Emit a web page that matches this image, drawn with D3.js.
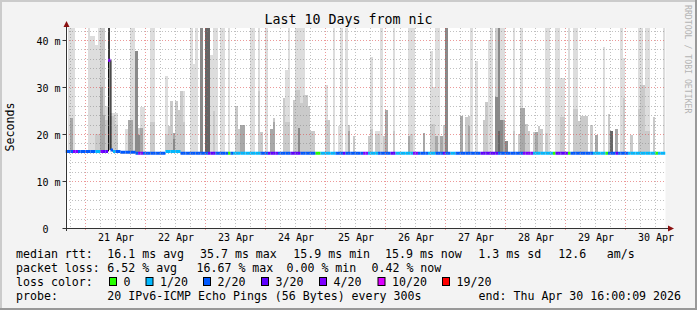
<!DOCTYPE html>
<html>
<head>
<meta charset="utf-8">
<script src="https://cdn.jsdelivr.net/npm/d3@7/dist/d3.min.js"></script>
<style>
body { margin: 0; background: #f3f3f3; }
svg { display: block; font-family: "DejaVu Sans Mono", monospace; }
</style>
</head>
<body>
<div class="container"></div>
<script>
const WIDTH = 697;
const HEIGHT = 310;
const PLOT_LEFT = 65.5, PLOT_RIGHT = 665.5;
const PLOT_TOP = 28, PLOT_BOTTOM = 228;
const Y_MAX = 42.55;

const startTime = Date.UTC(2026, 3, 20, 16, 0, 9);
const endTime = Date.UTC(2026, 3, 30, 16, 0, 9);
const firstSlot = Date.UTC(2026, 3, 20, 16, 0, 0);
const HOUR = 3600 * 1000;

// hourly smoke: top of the outermost band (max ping), ms
const smokeMax = [
    0,45,45,45,0,0,0,0,0,45,40.8,40.8,39,45,45,45,25.9,45,24.5,24.5,
    24.5,0,0,0,21.1,23,45,45,37.6,21.3,25.8,25.8,0,0,45,45,0,0,0,0,
    32.3,21.7,27.1,20.3,27.1,25.1,29.2,29.2,0,0,45,34.9,45,0,45,0,45,45,36.7,45,
    45,0,45,45,0,45,0,0,25.9,21,21.9,21.9,0,0,45,45,0,45,20.5,0,
    45,0,21,23.4,0,0,0,27.7,33.7,45,0,27.2,45,45,45,45,28.4,25.9,20.7,20.7,
    0,0,0,0,30.4,23,0,45,0,21.7,45,0,45,22,0,19.5,0,0,0,0,
    0,19.5,36.3,0,20.7,20.7,45,19.5,25.1,0,0,45,0,0,0,0,0,45,45,45,
    0,0,0,20.3,0,0,37.6,30,45,45,19.5,22,45,0,0,0,0,0,23.9,0,
    23.7,23.9,45,0,35.5,0,0,23,26.9,40.1,45,0,45,45,45,45,18.5,0,0,45,
    0,20,45,25.5,22.1,20.7,0,20.5,20.5,21.7,21,0,45,45,0,0,45,45,32,32,
    0,45,0,45,45,22.8,23.9,23.9,23.9,0,22,0,19.8,0,0,38.6,0,24.2,20.7,0,
    21.1,0,45,36.2,0,0,19.8,0,0,45,45,30.4,45,45,0,23.7,0,0,0,45
];

// second band (19th ping), ms
const smokeP19 = [
    0,0,23.5,0,0,0,0,0,0,0,0,0,20,20,45,45,23,45,23.8,23.8,
    22,0,0,0,0,0,0,0,37.6,21.3,0,0,0,0,22.5,22.5,0,0,0,0,
    20,21.7,27.1,20.3,27.1,25.1,29.2,22.5,0,0,0,0,0,0,45,0,45,45,0,24.9,
    0,0,0,0,0,0,0,0,25.9,21,0,0,0,0,0,0,0,29.1,20.5,0,
    0,0,0,23.4,0,0,0,27.7,22.6,22.6,0,27.2,29.4,29.4,26.6,28.4,28.4,25.9,20.7,20.7,
    0,0,0,0,23,23,0,0,0,0,0,0,0,22,0,19.5,0,0,0,0,
    0,19.5,21,0,20,20,0,19.5,0,0,0,20.7,0,0,0,0,0,0,20,0,
    0,0,0,0,0,0,22.2,22.2,0,0,0,22,45,0,0,0,0,0,0,0,
    23.7,23.9,0,0,0,0,0,23,26.9,0,0,0,45,45,0,0,0,0,0,20.7,
    0,20,0,0,22.1,20.7,0,20.5,0,21.7,21,0,20.2,0,0,0,0,0,23.6,23.6,
    0,0,0,25.4,25.4,22.8,23.9,23.9,23.9,0,22,0,0,0,0,0,0,24.2,20.7,0,
    0,0,0,27.7,0,0,19.8,0,0,25.4,30.4,30.4,20.7,20.7,0,23.7,0,0,0,0
];

// darker inner bands: hour slot and top (ms)
const p17Slots = [2,14,15,17,25,26,28,30,43,54,56,57,70,71,82,83,93,113,128,137,143,148,150,152,158,161,172,173,175,182,183,188,212,218,220];
const p17Tops = [23.3,30,24,45,23,23,37.6,21.3,20.3,45,45,45,21.9,21.9,21,22.6,21.3,20.7,25.1,19.5,20.3,19.5,19.5,45,23.9,21.7,27.8,45,23,25.5,25.5,20.5,19.8,20.7,21.1];
const p15Slots = [17,28,29,43,54,56,57,93,152,172,173,174,176,218];
const p15Tops = [45,37.6,19.8,19,45,45,45,21.3,45,27.8,45,23,18.5,20.7];
const p13Slots = [17,56,57,173,218];
const p13Tops = [45,45,45,20.7,20.7];
const p11Slots = [17];
const p11Tops = [45];

// hourly median rtt, ms
const medianRtt = [
    16.3,16.3,16.3,16.3,16.3,16.3,16.3,16.3,16.3,16.3,16.3,16.3,16.3,16.3,16.3,16.3,16.3,35.7,16.6,16.3,
    16.3,16.3,16.1,16.1,16.1,16.1,16.1,16.1,15.9,15.9,15.9,15.9,15.9,15.9,15.9,15.9,15.9,15.9,15.9,15.9,
    16.3,16.3,16.3,16.3,16.3,16.3,15.9,15.9,15.9,15.9,15.9,15.9,15.9,15.9,15.9,15.9,15.9,15.9,15.9,15.9,
    15.9,15.9,15.9,15.9,15.9,15.9,15.9,15.9,15.9,15.9,15.9,15.9,15.9,15.9,15.9,15.9,15.9,15.9,15.9,15.9,
    15.9,15.9,15.9,15.9,15.9,15.9,15.9,15.9,15.9,15.9,15.9,15.9,15.9,15.9,15.9,15.9,15.9,15.9,15.9,15.9,
    15.9,15.9,15.9,15.9,15.9,15.9,15.9,15.9,15.9,15.9,15.9,15.9,15.9,15.9,15.9,15.9,15.9,15.9,15.9,15.9,
    15.9,15.9,15.9,15.9,15.9,15.9,15.9,15.9,15.9,15.9,15.9,15.9,15.9,15.9,15.9,15.9,15.9,15.9,15.9,15.9,
    15.9,15.9,15.9,15.9,15.9,15.9,15.9,15.9,15.9,15.9,15.9,15.9,15.9,15.9,15.9,15.9,15.9,15.9,15.9,15.9,
    15.9,15.9,15.9,15.9,15.9,15.9,15.9,15.9,15.9,15.9,15.9,15.9,15.9,15.9,15.9,15.9,15.9,15.9,15.9,15.9,
    15.9,15.9,15.9,15.9,15.9,15.9,15.9,15.9,15.9,15.9,15.9,15.9,15.9,15.9,15.9,15.9,15.9,15.9,15.9,15.9,
    15.9,15.9,15.9,15.9,15.9,15.9,15.9,15.9,15.9,15.9,15.9,15.9,15.9,15.9,15.9,15.9,15.9,15.9,15.9,15.9,
    15.9,15.9,15.9,15.9,15.9,15.9,15.9,15.9,15.9,15.9,15.9,15.9,15.9,15.9,15.9,15.9,15.9,15.9,15.9,15.9
];

// hourly lost pings out of 20
const lostPings = [
    2,2,2,4,4,2,2,2,2,2,2,2,1,1,4,3,3,4,2,1,
    2,2,2,2,2,2,2,2,2,4,4,2,2,2,2,2,2,2,2,2,
    1,1,1,1,1,1,2,2,2,2,2,2,2,2,2,2,2,3,3,3,
    2,2,2,2,2,0,2,1,1,1,1,1,1,1,1,1,1,1,2,2,
    2,3,3,3,3,2,2,2,2,2,3,3,3,3,2,2,2,2,2,2,
    0,0,1,1,1,1,1,1,2,2,2,3,2,2,2,2,2,2,2,4,
    4,1,1,1,1,2,2,2,2,2,3,3,1,1,1,1,1,1,1,4,
    4,2,2,2,2,1,1,1,2,2,2,3,2,2,1,1,2,2,2,2,
    2,2,2,2,2,2,3,3,3,3,3,3,3,2,2,2,2,2,2,2,
    2,2,2,4,4,4,4,1,1,1,1,1,1,1,1,0,3,3,3,3,
    3,0,2,2,2,2,2,2,2,2,2,1,1,1,1,1,0,2,2,2,
    3,2,2,2,2,1,1,1,1,1,1,1,1,1,1,1,0,1,1,1
];

const lossThresholds = [0, 1, 2, 3, 4, 10, 19];
const lossLabels = ["0", "1/20", "2/20", "3/20", "4/20", "10/20", "19/20"];
const lossColors = ["#26ff00", "#00b8ff", "#0059ff", "#5e00ff", "#7e00ff", "#dd00ff", "#ff0000"];

const yTicks = [0, 10, 20, 30, 40];
const rttStats = ["16.1 ms avg", "35.7 ms max", "15.9 ms min", "15.9 ms now", "1.3 ms sd", "12.6", "am/s"];
const lossStats = ["6.52 % avg", "16.67 % max", "0.00 % min", "0.42 % now"];
const probeText = "20 IPv6-ICMP Echo Pings (56 Bytes) every 300s";
const endText = "end: Thu Apr 30 16:00:09 2026";

function lossColor(n) {
    var k = 0;
    for (var i = 0; i < lossThresholds.length; i++) {
        if (n >= lossThresholds[i]) k = i;
    }
    return lossColors[k];
}

var svg = d3.select(".container").append("svg")
    .attr("width", WIDTH)
    .attr("height", HEIGHT);

// background + 3d border
svg.append("rect").attr("width", WIDTH).attr("height", HEIGHT).attr("fill", "#f3f3f3");
svg.append("path").attr("d", "M0,1H697M1,0V310").attr("stroke", "#cbcbcb").attr("stroke-width", 2);
svg.append("path").attr("d", "M0,309H697M696,0V310").attr("stroke", "#999999").attr("stroke-width", 2);

var xScale = d3.scaleUtc().domain([startTime, endTime]).range([PLOT_LEFT, PLOT_RIGHT]);
var yScale = d3.scaleLinear().domain([0, Y_MAX]).range([PLOT_BOTTOM, PLOT_TOP]);

svg.append("rect")
    .attr("x", PLOT_LEFT).attr("y", PLOT_TOP)
    .attr("width", PLOT_RIGHT - PLOT_LEFT).attr("height", PLOT_BOTTOM - PLOT_TOP)
    .attr("fill", "#ffffff");

svg.append("clipPath").attr("id", "plot")
    .append("rect")
    .attr("x", PLOT_LEFT).attr("y", PLOT_TOP)
    .attr("width", PLOT_RIGHT - PLOT_LEFT).attr("height", PLOT_BOTTOM - PLOT_TOP);

var plot = svg.append("g").attr("clip-path", "url(#plot)");

function slotX(i) { return xScale(firstSlot + i * HOUR); }

function drawBand(slots, tops, color) {
    var rows = slots.map(function (s, k) { return { slot: s, top: tops[k] }; })
        .filter(function (d) { return d.top > 0; });
    plot.append("g").selectAll("rect").data(rows).enter().append("rect")
        .attr("x", function (d) { return slotX(d.slot); })
        .attr("width", function (d) { return slotX(d.slot + 1) - slotX(d.slot); })
        .attr("y", function (d) { return yScale(Math.min(d.top, Y_MAX + 1)); })
        .attr("height", function (d) { return yScale(medianRtt[d.slot]) - yScale(Math.min(d.top, Y_MAX + 1)); })
        .attr("fill", color)
        .attr("shape-rendering", "crispEdges");
}

var allSlots = d3.range(smokeMax.length);
drawBand(allSlots, smokeMax, "#dddddd");
drawBand(allSlots, smokeP19, "#cacaca");
drawBand(p17Slots, p17Tops, "#a8a8a8");
drawBand(p15Slots, p15Tops, "#8a8a8a");
drawBand(p13Slots, p13Tops, "#666666");
drawBand(p11Slots, p11Tops, "#3c3c3c");

// grid (drawn over the smoke, like rrdtool)
var grid = svg.append("g").attr("stroke-dasharray", "1,2").attr("shape-rendering", "crispEdges");
var minorY = d3.range(2, Y_MAX, 2).filter(function (v) { return v % 10 !== 0; });
var majorY = yTicks.filter(function (v) { return v > 0; });
var dayStart = Date.UTC(2026, 3, 21);
var minorX = d3.range(-1, 40).map(function (k) { return dayStart + k * 6 * HOUR; })
    .filter(function (t) { return t > startTime && t < endTime && (t - dayStart) % (24 * HOUR) !== 0; });
var majorX = d3.range(0, 10).map(function (k) { return dayStart + k * 24 * HOUR; });

grid.selectAll(".hminor").data(minorY).enter().append("line")
    .attr("x1", PLOT_LEFT).attr("x2", PLOT_RIGHT)
    .attr("y1", function (d) { return Math.round(yScale(d)) + 0.5; })
    .attr("y2", function (d) { return Math.round(yScale(d)) + 0.5; })
    .attr("stroke", "rgba(130,130,130,0.5)");
grid.selectAll(".vminor").data(minorX).enter().append("line")
    .attr("y1", PLOT_TOP).attr("y2", PLOT_BOTTOM)
    .attr("x1", function (d) { return Math.round(xScale(d)) + 0.5; })
    .attr("x2", function (d) { return Math.round(xScale(d)) + 0.5; })
    .attr("stroke", "rgba(130,130,130,0.5)");
grid.selectAll(".hmajor").data(majorY).enter().append("line")
    .attr("x1", PLOT_LEFT).attr("x2", PLOT_RIGHT)
    .attr("y1", function (d) { return Math.round(yScale(d)) + 0.5; })
    .attr("y2", function (d) { return Math.round(yScale(d)) + 0.5; })
    .attr("stroke", "rgba(220,70,70,0.55)");
grid.selectAll(".vmajor").data(majorX).enter().append("line")
    .attr("y1", PLOT_TOP).attr("y2", PLOT_BOTTOM + 3)
    .attr("x1", function (d) { return Math.round(xScale(d)) + 0.5; })
    .attr("x2", function (d) { return Math.round(xScale(d)) + 0.5; })
    .attr("stroke", "rgba(220,70,70,0.55)");

// median line coloured by loss
var med = plot.append("g");
allSlots.forEach(function (i) {
    var yv = yScale(medianRtt[i]);
    if (i > 0 && Math.abs(medianRtt[i] - medianRtt[i - 1]) > 2) {
        med.append("line")
            .attr("x1", slotX(i) + 0.5).attr("x2", slotX(i) + 0.5)
            .attr("y1", yScale(medianRtt[i - 1])).attr("y2", yv)
            .attr("stroke", "#111").attr("stroke-width", 1);
        med.append("line")
            .attr("x1", slotX(i + 1) - 0.5).attr("x2", slotX(i + 1) - 0.5)
            .attr("y1", yScale(medianRtt[i + 1])).attr("y2", yv)
            .attr("stroke", "#111").attr("stroke-width", 1);
    }
});
med.selectAll(".seg").data(allSlots).enter().append("line")
    .attr("x1", function (i) { return slotX(i); })
    .attr("x2", function (i) { return slotX(i + 1); })
    .attr("y1", function (i) { return yScale(medianRtt[i]); })
    .attr("y2", function (i) { return yScale(medianRtt[i]); })
    .attr("stroke", function (i) { return lossColor(lostPings[i]); })
    .attr("stroke-width", 3);

// axes
var yAxis = d3.axisLeft(yScale).tickValues(yTicks).tickSize(4).tickPadding(2)
    .tickFormat(function (d) { return d ? d + " m" : "0"; });
var yg = svg.append("g").attr("transform", "translate(66.5,0)").call(yAxis);
yg.select(".domain").remove();
yg.selectAll("text").attr("font-family", "DejaVu Sans Mono").attr("font-size", 10)
    .attr("fill", "#000").attr("dy", "0.42em")
    .attr("dx", function (d) { return d ? 0 : -12; });
yg.selectAll(".tick line").attr("stroke", "#333");

var noons = majorX.map(function (t) { return t + 12 * HOUR; });
var xAxis = d3.axisBottom(xScale).tickValues(noons).tickSize(0).tickPadding(6)
    .tickFormat(d3.utcFormat("%d %b"));
var xg = svg.append("g").attr("transform", "translate(0," + PLOT_BOTTOM + ")").call(xAxis);
xg.select(".domain").remove();
xg.selectAll("text").attr("font-family", "DejaVu Sans Mono").attr("font-size", 10)
    .attr("fill", "#000").attr("dy", "0.71em");

svg.append("line").attr("x1", 66.5).attr("x2", 66.5).attr("y1", 24).attr("y2", 231)
    .attr("stroke", "#333");
svg.append("line").attr("x1", 63).attr("x2", 670).attr("y1", 228.5).attr("y2", 228.5)
    .attr("stroke", "#333");
svg.append("path").attr("d", "M63.5,27L66.5,21L69.5,27Z").attr("fill", "#8b1111");
svg.append("path").attr("d", "M668,225.5L674,228.5L668,231.5Z").attr("fill", "#8b1111");

// titles
svg.append("text").attr("x", 348.5).attr("y", 24).attr("text-anchor", "middle")
    .attr("font-size", 13.3).text("Last 10 Days from nic");
svg.append("text").attr("transform", "translate(14,127) rotate(-90)")
    .attr("text-anchor", "middle").attr("font-size", 11.6).text("Seconds");
svg.append("text").attr("transform", "translate(684.8,5) rotate(90)")
    .attr("font-size", 8.2).attr("fill", "#b4b4b4").text("RRDTOOL / TOBI OETIKER");

// legend
var legend = svg.append("g").attr("font-size", 11.6).attr("fill", "#000");
var rttX = [107.3, 200, 293.3, 385, 478.3, 558.3, 606.7];
legend.append("text").attr("x", 16).attr("y", 258).text("median rtt:");
rttStats.forEach(function (s, k) {
    legend.append("text").attr("x", rttX[k]).attr("y", 258).text(s);
});
var lossX = [107.3, 196.5, 286.5, 371.5];
legend.append("text").attr("x", 16).attr("y", 272).text("packet loss:");
lossStats.forEach(function (s, k) {
    legend.append("text").attr("x", lossX[k]).attr("y", 272).text(s);
});
var boxX = [109.5, 146, 203.5, 261.5, 319.5, 378, 442.5];
legend.append("text").attr("x", 16).attr("y", 286).text("loss color:");
lossLabels.forEach(function (s, k) {
    legend.append("rect").attr("x", boxX[k]).attr("y", 277.5).attr("width", 7).attr("height", 8)
        .attr("fill", lossColors[k]).attr("stroke", "#000").attr("stroke-width", 1);
    legend.append("text").attr("x", boxX[k] + 14).attr("y", 286).text(s);
});
legend.append("text").attr("x", 16).attr("y", 300).text("probe:");
legend.append("text").attr("x", 107.3).attr("y", 300).text(probeText);
legend.append("text").attr("x", 681).attr("y", 300).attr("text-anchor", "end").text(endText);
</script>
</body>
</html>
